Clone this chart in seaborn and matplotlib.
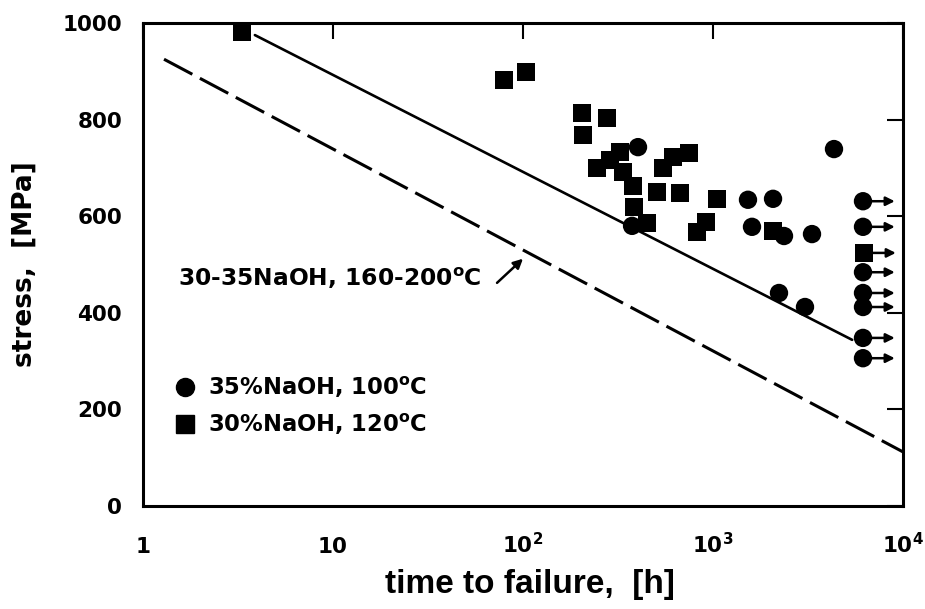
import numpy as np
import pandas as pd
import seaborn as sns
import matplotlib
matplotlib.use("Agg")
import matplotlib.pyplot as plt
from matplotlib.lines import Line2D

# ---------------- data ----------------
# 35% NaOH, 100 C  (failures)
circle_t = [403, 4333, 1528, 2070, 375, 1604, 2364, 3319, 2225, 3049]
circle_s = [743, 739, 634, 636, 580, 578, 559, 563, 441, 412]
# 30% NaOH, 120 C  (failures)
square_t = [3.32, 79.4, 104, 204, 277, 207, 324, 287, 245, 336, 379, 615, 748,
            545, 507, 670, 1050, 384, 449, 919, 824, 2070]
square_s = [981, 882, 899, 814, 803, 768, 733, 716, 700, 691, 663, 723, 731,
            700, 650, 648, 636, 619, 586, 588, 567, 569]
# run-outs (no failure, arrows)
runout_circle_t = [6158, 6158, 6158, 6158, 6158, 6158, 6158]
runout_circle_s = [631, 578, 484, 441, 412, 348, 306]
runout_square_t = [6235]
runout_square_s = [524]

# threshold lines (end points)
solid_t = [3.88, 5400]
solid_s = [975, 344]
dashed_t = [1.29, 10000]
dashed_s = [925, 112]

x_ticks = [1, 10, 100, 1000, 10000]
x_tick_labels = ["1", "10", r"$10^{2}$", r"$10^{3}$", r"$10^{4}$"]
y_ticks = [0, 200, 400, 600, 800, 1000]

lab_circle = r"35%NaOH, 100$^{o}$C"
lab_square = r"30%NaOH, 120$^{o}$C"
annot_text = r"30-35NaOH, 160-200$^{o}$C"

# ---------------- style ----------------
sns.set_theme(style="white")
plt.rcParams["font.family"] = ["DejaVu Sans"]
plt.rcParams["font.weight"] = "bold"
plt.rcParams["text.color"] = "black"
plt.rcParams["mathtext.fontset"] = "dejavusans"
plt.rcParams["mathtext.default"] = "bf"

fig = plt.figure(figsize=(9.25, 6.09), dpi=100)
ax = fig.add_axes([143/925, 1-506/609, 760/925, 483/609])
ax.set_xscale("log")

df = pd.DataFrame({
    "t": circle_t + runout_circle_t + square_t + runout_square_t,
    "s": circle_s + runout_circle_s + square_s + runout_square_s,
    "series": [lab_circle] * (len(circle_t) + len(runout_circle_t))
              + [lab_square] * (len(square_t) + len(runout_square_t)),
})

# run-out arrows
ARROW_FACTOR = 1.47
for t, s in zip(runout_circle_t + runout_square_t, runout_circle_s + runout_square_s):
    ax.annotate("", xy=(t * ARROW_FACTOR, s), xytext=(t, s),
                arrowprops=dict(arrowstyle="-|>", lw=1.8, color="black",
                                mutation_scale=13, shrinkA=0, shrinkB=0),
                zorder=2)

# lines
ax.plot(solid_t, solid_s, color="black", lw=1.9, zorder=1)
ax.plot(dashed_t, dashed_s, color="black", lw=2.2, dashes=(10.5, 2.8), zorder=1)

sns.scatterplot(data=df, x="t", y="s", style="series",
                markers={lab_circle: "o", lab_square: "s"},
                color="black", s=175, edgecolor="none", legend=False,
                ax=ax, zorder=3)

ax.set_xlim(1, 10000)
ax.set_ylim(0, 1000)

ax.set_xticks(x_ticks)
ax.set_xticklabels(x_tick_labels)
ax.xaxis.set_minor_locator(matplotlib.ticker.NullLocator())
ax.set_yticks(y_ticks)

ax.tick_params(axis="both", which="major", direction="in", length=11.5, width=1.5,
               top=True, right=True, labelsize=15.5, color="black", labelcolor="black")
ax.tick_params(axis="x", pad=34)
ax.tick_params(axis="y", pad=15)
for lab in ax.get_xticklabels():
    lab.set_fontweight("bold")
    lab.set_va("baseline")
for lab in ax.get_yticklabels():
    lab.set_fontweight("bold")

for sp in ax.spines.values():
    sp.set_visible(True)
    sp.set_color("black")
    sp.set_linewidth(2.2)

ax.set_ylabel("stress,  [MPa]", fontsize=19, fontweight="bold", color="black")
ax.yaxis.set_label_coords(-0.139, 0.5)
ax.set_xlabel("time to failure,  [h]", fontsize=24, fontweight="bold", color="black",
              family=["Liberation Sans", "DejaVu Sans"])
ax.xaxis.set_label_coords(0.509, -0.13)

# annotation for the dashed line
ax.text(1.53, 472, annot_text, fontsize=16.8, fontweight="bold", ha="left", va="center",
        color="black")
ax.annotate("", xy=(100, 512), xytext=(73, 462),
            arrowprops=dict(arrowstyle="-|>", lw=1.8, color="black",
                            mutation_scale=14, shrinkA=0, shrinkB=0))

# legend
handles = [Line2D([], [], marker="o", ls="", color="black", markersize=13),
           Line2D([], [], marker="s", ls="", color="black", markersize=12.5)]
leg = ax.legend(handles, [lab_circle, lab_square], loc="center left",
                bbox_to_anchor=(0.041, 0.207), frameon=False, fontsize=16.3,
                handlelength=1.0, handletextpad=0.5, labelspacing=0.5,
                borderpad=0, borderaxespad=0)
for txt in leg.get_texts():
    txt.set_fontweight("bold")
    txt.set_color("black")

fig.savefig("out.png", dpi=100, facecolor="white")
